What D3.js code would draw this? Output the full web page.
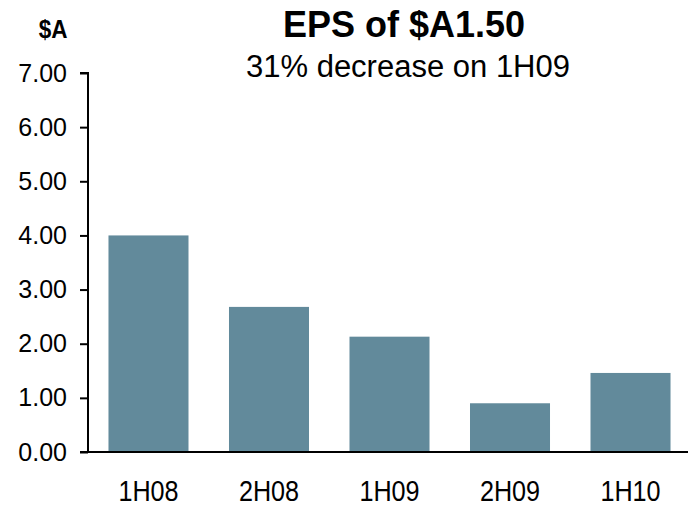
<!DOCTYPE html>
<html>
<head>
<meta charset="utf-8">
<script src="https://cdn.jsdelivr.net/npm/d3@7"></script>
<style>
  body { margin: 0; background: #fff; }
  svg { display: block; font-family: "Liberation Sans", Arial, sans-serif; }
</style>
</head>
<body>
<svg width="688" height="507"></svg>
<script>
// data
var periods = ['1H08', '2H08', '1H09', '2H09', '1H10'];
var eps = [4.00, 2.68, 2.13, 0.90, 1.46];
var yTicks = [0, 1, 2, 3, 4, 5, 6, 7];

var svg = d3.select('svg');

// layout
var plot = {l: 88, r: 691, t: 73, b: 452};

var xScale = d3.scaleBand()
    .domain(periods)
    .range([plot.l, plot.r])
    .paddingInner(0.336)
    .paddingOuter(0.17);

var yScale = d3.scaleLinear()
    .domain([0, 7])
    .range([plot.b, plot.t]);

// bars
svg.selectAll('.bar')
    .data(periods)
    .enter()
    .append('rect')
    .attr('class', 'bar')
    .attr('x', function(d) { return xScale(d); })
    .attr('width', xScale.bandwidth())
    .attr('y', function(d, i) { return yScale(eps[i]); })
    .attr('height', function(d, i) { return plot.b - yScale(eps[i]); })
    .attr('fill', '#628a9b');

// y axis
var yAxisG = svg.append('g')
    .attr('transform', 'translate(' + [plot.l, 0] + ')')
    .call(d3.axisLeft(yScale)
        .tickValues(yTicks)
        .tickFormat(d3.format('.2f'))
        .tickSize(8)
        .tickPadding(13));

yAxisG.select('.domain')
    .attr('d', 'M-8,' + plot.t + 'H0V' + plot.b)
    .attr('stroke-width', 2);
yAxisG.selectAll('.tick line').attr('stroke-width', 2);
yAxisG.selectAll('.tick text')
    .attr('font-size', 25)
    .attr('fill', '#000')
    .attr('font-family', '"Liberation Sans", Arial, sans-serif');

// x axis baseline
svg.append('line')
    .attr('x1', plot.l - 8)
    .attr('x2', 688)
    .attr('y1', plot.b)
    .attr('y2', plot.b)
    .attr('stroke', '#000')
    .attr('stroke-width', 2);

// category labels (tall, narrow type like the original)
svg.selectAll('.cat')
    .data(periods)
    .enter()
    .append('text')
    .attr('class', 'cat')
    .attr('transform', function(d) {
        return 'translate(' + [xScale(d) + xScale.bandwidth() / 2, 501] + ') scale(0.84,1)';
    })
    .attr('text-anchor', 'middle')
    .attr('font-size', 30)
    .text(function(d) { return d; });

// unit label
svg.append('text')
    .attr('transform', 'translate(53,38) scale(0.9,1)')
    .attr('text-anchor', 'middle')
    .attr('font-size', 25)
    .attr('font-weight', 'bold')
    .text('$A');

// titles
svg.append('text')
    .attr('x', 404)
    .attr('y', 37)
    .attr('text-anchor', 'middle')
    .attr('font-size', 36)
    .attr('font-weight', 'bold')
    .text('EPS of $A1.50');

svg.append('text')
    .attr('x', 408)
    .attr('y', 77)
    .attr('text-anchor', 'middle')
    .attr('font-size', 31)
    .text('31% decrease on 1H09');
</script>
</body>
</html>
